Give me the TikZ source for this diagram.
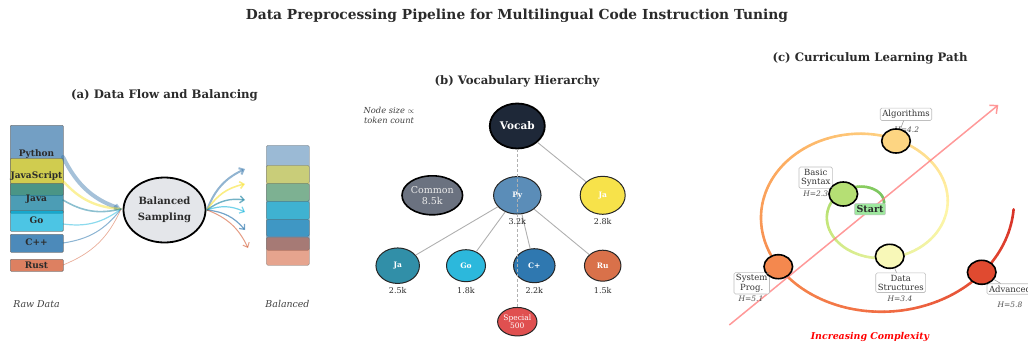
\documentclass[tikz,border=0pt]{standalone}
\usepackage{fontspec}
\setmainfont{DejaVu Serif}
\usetikzlibrary{shapes.geometric,arrows.meta,calc}

% language colours
\definecolor{cpy}{HTML}{3776AB}
\definecolor{cjs}{HTML}{F7DF1E}
\definecolor{cjava}{HTML}{007396}
\definecolor{cgo}{HTML}{00ADD8}
\definecolor{ccpp}{HTML}{00599C}
\definecolor{crust}{HTML}{CE4A1E}
\definecolor{balfill}{HTML}{E4E6EA}
% vocabulary node colours
\definecolor{vvocab}{HTML}{1E2838}
\definecolor{vcommon}{HTML}{6B7280}
\definecolor{vpy}{HTML}{5B8DB8}
\definecolor{vjs}{HTML}{F7E24A}
\definecolor{vjava}{HTML}{318FA8}
\definecolor{vgo}{HTML}{2CB8DC}
\definecolor{vcpp}{HTML}{2F78B0}
\definecolor{vrust}{HTML}{D9714A}
\definecolor{vspecial}{HTML}{E05050}
\definecolor{edgegray}{HTML}{B0B0B0}
% curriculum colours
\definecolor{s0}{HTML}{66BD63}
\definecolor{s1}{HTML}{8FCF5F}
\definecolor{s2}{HTML}{C5E67A}
\definecolor{s3}{HTML}{E8F2A0}
\definecolor{s4}{HTML}{FFF5A8}
\definecolor{s5}{HTML}{FED585}
\definecolor{s6}{HTML}{FDB063}
\definecolor{s7}{HTML}{F68A4E}
\definecolor{s8}{HTML}{F06A42}
\definecolor{s9}{HTML}{D73027}
\definecolor{nbasic}{HTML}{B5DF74}
\definecolor{ndata}{HTML}{F8F8B8}
\definecolor{nalgo}{HTML}{FDD582}
\definecolor{nsys}{HTML}{F4884E}
\definecolor{nadv}{HTML}{E04A30}
\definecolor{startfill}{HTML}{9EE89E}
\definecolor{complexred}{HTML}{FF8080}
\definecolor{txt}{HTML}{2B2B2B}

\tikzset{
  ptitle/.style={font=\bfseries\fontsize{11.7}{14}\selectfont, text=txt},
  rawbox/.style={rectangle, rounded corners=1pt, draw=black!60, line width=0.6pt,
    fill opacity=0.7, draw opacity=0.8, minimum width=53pt, inner sep=0pt, anchor=north west},
  balbox/.style={rectangle, rounded corners=1.5pt, draw=black!60, line width=0.6pt,
    fill opacity=0.5, draw opacity=0.5, minimum width=43pt, inner sep=0pt, anchor=north west},
  boxtext/.style={font=\bfseries\fontsize{9}{10}\selectfont, text=txt, inner sep=0pt},
  capt/.style={font=\itshape\fontsize{9.4}{11}\selectfont, text=black!75},
  flowin/.style={draw opacity=0.45, line cap=round},
  flowout/.style={draw opacity=0.55, line cap=round, -{Straight Barb[length=4pt,width=7pt]}},
  vnode/.style={ellipse, draw=black!85, line width=1pt, inner sep=0pt, text=white},
  vcount/.style={font=\fontsize{8}{9}\selectfont, text=txt, inner sep=0pt},
  vedge/.style={draw=edgegray, line width=0.9pt},
  cnode/.style={ellipse, draw=black, line width=1.6pt, minimum width=28.6pt, minimum height=24pt, inner sep=0pt},
  lbox/.style={rectangle, rounded corners=1.5pt, draw=black!25, fill=white, line width=0.6pt,
    align=center, font=\fontsize{8.5}{9.2}\selectfont, inner sep=2pt, text=black!80},
  hval/.style={font=\itshape\fontsize{7.5}{8}\selectfont, text=black!70, inner sep=0pt},
  lead/.style={draw=black!45, line width=0.5pt},
}

\begin{document}
\begin{tikzpicture}[x=1pt,y=-1pt]
\useasboundingbox (0,0) rectangle (1028,345);

% ---------------- main heading ----------------
\node[font=\bfseries\fontsize{13.8}{16}\selectfont, text=txt] (maintitle) at (517,16)
  {Data Preprocessing Pipeline for Multilingual Code Instruction Tuning};

% ================= (a) data flow =================
\node[ptitle] (atitle) at (164.5,95) {(a) Data Flow and Balancing};

% raw data stack
\node[rawbox, fill=cpy,   minimum height=58pt] (rpy)   at (10,125) {};
\node[rawbox, fill=cjs,   minimum height=37pt] (rjs)   at (10,158) {};
\node[rawbox, fill=cjava, minimum height=30pt] (rjava) at (10,183) {};
\node[rawbox, fill=cgo,   minimum height=21pt] (rgo)   at (10,210) {};
\node[rawbox, fill=ccpp,  minimum height=18pt] (rcpp)  at (10,234) {};
\node[rawbox, fill=crust, minimum height=12pt] (rrust) at (10,259) {};

\node[boxtext] (tpy)   at (36.5,154) {Python};
\node[boxtext] (tjs)   at (36.5,176.5) {JavaScript};
\node[boxtext] (tjava) at (36.5,199) {Java};
\node[boxtext] (tgo)   at (36.5,220.5) {Go};
\node[boxtext] (tcpp)  at (36.5,242.7) {C++};
\node[boxtext] (trust) at (36.5,265) {Rust};

% sampler
\node[ellipse, draw=black, line width=1.8pt, fill=balfill, minimum width=82pt,
  minimum height=65pt, inner sep=0pt, align=center,
  font=\bfseries\fontsize{10}{16.5}\selectfont, text=txt] (bal) at (164.5,210) {Balanced\\Sampling};

% flow endpoints
\coordinate (opy)   at (63,157);
\coordinate (ojs)   at (63,181);
\coordinate (ojava) at (63,200);
\coordinate (ogo)   at (63,224);
\coordinate (ocpp)  at (63,243);
\coordinate (orust) at (63,265);
\coordinate (balw)  at (121,209);
\coordinate (bale)  at (207,210);

\draw[flowin, cpy, line width=4pt, -{Straight Barb[length=3pt,width=4pt]}] (opy) to[bend right=22] (balw);
\draw[flowin, cjs, line width=2.4pt] (ojs) to[bend right=22] (balw);
\draw[flowin, cjava, line width=1.6pt] (ojava) to[bend right=22] (balw);
\draw[flowin, cgo, line width=1.2pt] (ogo) to[bend right=22] (balw);
\draw[flowin, ccpp, line width=1pt] (ocpp) to[bend right=22] (balw);
\draw[flowin, crust, line width=0.7pt] (orust) to[bend right=22] (balw);

% balanced stack
\node[balbox, fill=cpy,   minimum height=38pt] (bpy)   at (266,145) {};
\node[balbox, fill=cjs,   minimum height=36pt] (bjs)   at (266,165) {};
\node[balbox, fill=cjava, minimum height=36pt] (bjava) at (266,183) {};
\node[balbox, fill=cgo,   minimum height=35pt] (bgo)   at (266,201) {};
\node[balbox, fill=ccpp,  minimum height=31pt] (bcpp)  at (266,219) {};
\node[balbox, fill=crust, minimum height=28pt] (brust) at (266,237) {};

\coordinate (ipy)   at (245,169);
\coordinate (ijs)   at (245,184);
\coordinate (ijava) at (245,200);
\coordinate (igo)   at (245,212);
\coordinate (icpp)  at (245,230);
\coordinate (irust) at (248,248);

\draw[flowout, cpy, line width=2pt] (bale) to[bend left=22] (ipy);
\draw[flowout, cjs, line width=1.6pt] (bale) to[bend left=22] (ijs);
\draw[flowout, cjava, line width=1.4pt] (bale) to[bend left=22] (ijava);
\draw[flowout, cgo, line width=1.2pt] (bale) to[bend left=22] (igo);
\draw[flowout, ccpp, line width=1.2pt] (bale) to[bend left=22] (icpp);
\draw[flowout, crust, line width=1pt] (bale) to[bend left=22] (irust);

\node[capt] (rawcap) at (36.5,304) {Raw Data};
\node[capt] (balcap) at (287.5,304) {Balanced};

% ================= (b) vocabulary =================
\node[ptitle] (btitle) at (517,81) {(b) Vocabulary Hierarchy};
\node[capt, font=\itshape\fontsize{8.3}{10.5}\selectfont, align=center] (vnote) at (389,115.5)
  {Node size $\propto$\\token count};

\node[vnode, fill=vvocab, draw=black, line width=1.8pt, minimum width=55pt, minimum height=45pt,
  font=\bfseries\fontsize{10.5}{12}\selectfont] (vocab) at (517.3,126) {Vocab};
\node[vnode, fill=vcommon, draw=black, line width=1.6pt, minimum width=48pt, minimum height=39pt,
  align=center, text=black!8, font=\fontsize{9.5}{10.5}\selectfont] (common) at (432.3,195.3) {Common\\8.5k};
\node[vnode, fill=vpy, minimum width=47.5pt, minimum height=37.5pt,
  font=\bfseries\fontsize{7.5}{8}\selectfont] (vpynode) at (517.3,195.3) {Py};
\node[vnode, fill=vjs, minimum width=45pt, minimum height=38pt,
  font=\bfseries\fontsize{7.5}{8}\selectfont] (vjsnode) at (602.7,195.3) {Ja};
\node[vnode, fill=vjava, minimum width=43.5pt, minimum height=35.5pt,
  font=\bfseries\fontsize{7.5}{8}\selectfont] (vjavanode) at (397.7,265.7) {Ja};
\node[vnode, fill=vgo, minimum width=39pt, minimum height=32pt,
  font=\bfseries\fontsize{7.5}{8}\selectfont] (vgonode) at (466,265.7) {Go};
\node[vnode, fill=vcpp, minimum width=41.5pt, minimum height=34pt,
  font=\bfseries\fontsize{7.5}{8}\selectfont] (vcppnode) at (534.3,265.7) {C+};
\node[vnode, fill=vrust, minimum width=36.5pt, minimum height=31pt,
  font=\bfseries\fontsize{7.5}{8}\selectfont] (vrustnode) at (602.7,265.7) {Ru};
\node[vnode, fill=vspecial, minimum width=35.5pt, minimum height=28.5pt, align=center,
  font=\fontsize{7.5}{8}\selectfont] (vspecialnode) at (517.3,321.7) {Special\\500};

% hierarchy edges (border to border)
\draw[vedge] (vocab) -- (vjsnode);
\draw[vedge] (vpynode) -- (vjavanode);
\draw[vedge] (vpynode) -- (vgonode);
\draw[vedge] (vpynode) -- (vcppnode);
\draw[vedge] (vpynode) -- (vrustnode);

\node[vcount] (kpy)   at (517.3,221.7) {3.2k};
\node[vcount] (kjs)   at (602.7,221.7) {2.8k};
\node[vcount] (kjava) at (397.7,290.7) {2.5k};
\node[vcount] (kgo)   at (466,290.7) {1.8k};
\node[vcount] (kcpp)  at (534.3,290.7) {2.2k};
\node[vcount] (krust) at (602.7,290.7) {1.5k};

\draw[vedge, dash pattern=on 3pt off 2pt] (vocab) -- (vspecialnode);

% ================= (c) curriculum =================
\node[ptitle] (ctitle) at (870,58) {(c) Curriculum Learning Path};

% spiral r = 9.5 + 66.6*t/360, vertically squeezed
\foreach \a/\b/\ca/\cb in {0/120/s0/s1,120/200/s1/s2,200/288/s2/s3,288/360/s3/s4,
    360/432/s4/s5,432/500/s5/s6,500/576/s6/s7,576/640/s7/s8,640/720/s8/s9}{
  \pgfmathtruncatemacro\nxt{\a+4}
  \pgfmathtruncatemacro\lst{\b-4}
  \foreach \t in {\a,\nxt,...,\lst}{
    \pgfmathtruncatemacro\pc{(\t-\a)*100/(\b-\a)}
    \pgfmathtruncatemacro\te{\t+4}
    \draw[draw=\cb!\pc!\ca, line width=2.6pt, line cap=round]
      plot[domain=\t:\te, samples=3, smooth]
      ({870.9+(9.5+0.185*\x)*cos(\x)}, {209.3-0.81*(9.5+0.185*\x)*sin(\x)});
  }
}

\coordinate (cxa) at (729.3,325);
\coordinate (cxb) at (998.3,105);
\draw[draw=complexred, line width=1.5pt, draw opacity=0.8,
  -{Straight Barb[length=6pt,width=11pt,line width=1.5pt]}] (cxa) -- (cxb);

% H values
\node[hval] (hbasic) at (815.7,194) {H=2.3};
\node[hval] (halgo)  at (906.7,130) {H=4.2};
\node[hval] (hdata)  at (900,299) {H=3.4};
\node[hval] (hsys)   at (751,299) {H=5.1};
\node[hval] (hadv)   at (1010,305) {H=5.8};

% stage labels
\node[lbox] (lbasic) at (815.7,177.7) {Basic\\Syntax};
\node[lbox] (lalgo)  at (906,114.3) {Algorithms};
\node[lbox] (ldata)  at (900.7,282.7) {Data\\Structures};
\node[lbox] (lsys)   at (751.7,283.3) {System\\Prog.};
\node[lbox, anchor=west] (ladv) at (986.7,289) {Advanced};

% stage nodes
\node[cnode, fill=nbasic] (nbasicnode) at (843.3,194) {};
\node[cnode, fill=nalgo]  (nalgonode)  at (896,141) {};
\node[cnode, fill=ndata]  (ndatanode)  at (889.7,256.3) {};
\node[cnode, fill=nsys]   (nsysnode)   at (778.3,266.7) {};
\node[cnode, fill=nadv]   (nadvnode)   at (981.7,272.3) {};

\draw[lead] (lalgo) -- (nalgonode);
\draw[lead] (ldata) -- (ndatanode);
\draw[lead] (ladv) -- (nadvnode);
\draw[lead] (lbasic) -- (nbasicnode);
\draw[lead] (lsys) -- (nsysnode);

\node[rectangle, rounded corners=1pt, fill=startfill, draw=black!25, line width=0.5pt,
  inner sep=2pt, font=\bfseries\fontsize{9.5}{11}\selectfont, text=txt] (start) at (870,209.3) {Start};

\node[font=\bfseries\itshape\fontsize{9.4}{11}\selectfont, text=red] (cxlabel) at (870,337)
  {Increasing Complexity};
\end{tikzpicture}
\end{document}
